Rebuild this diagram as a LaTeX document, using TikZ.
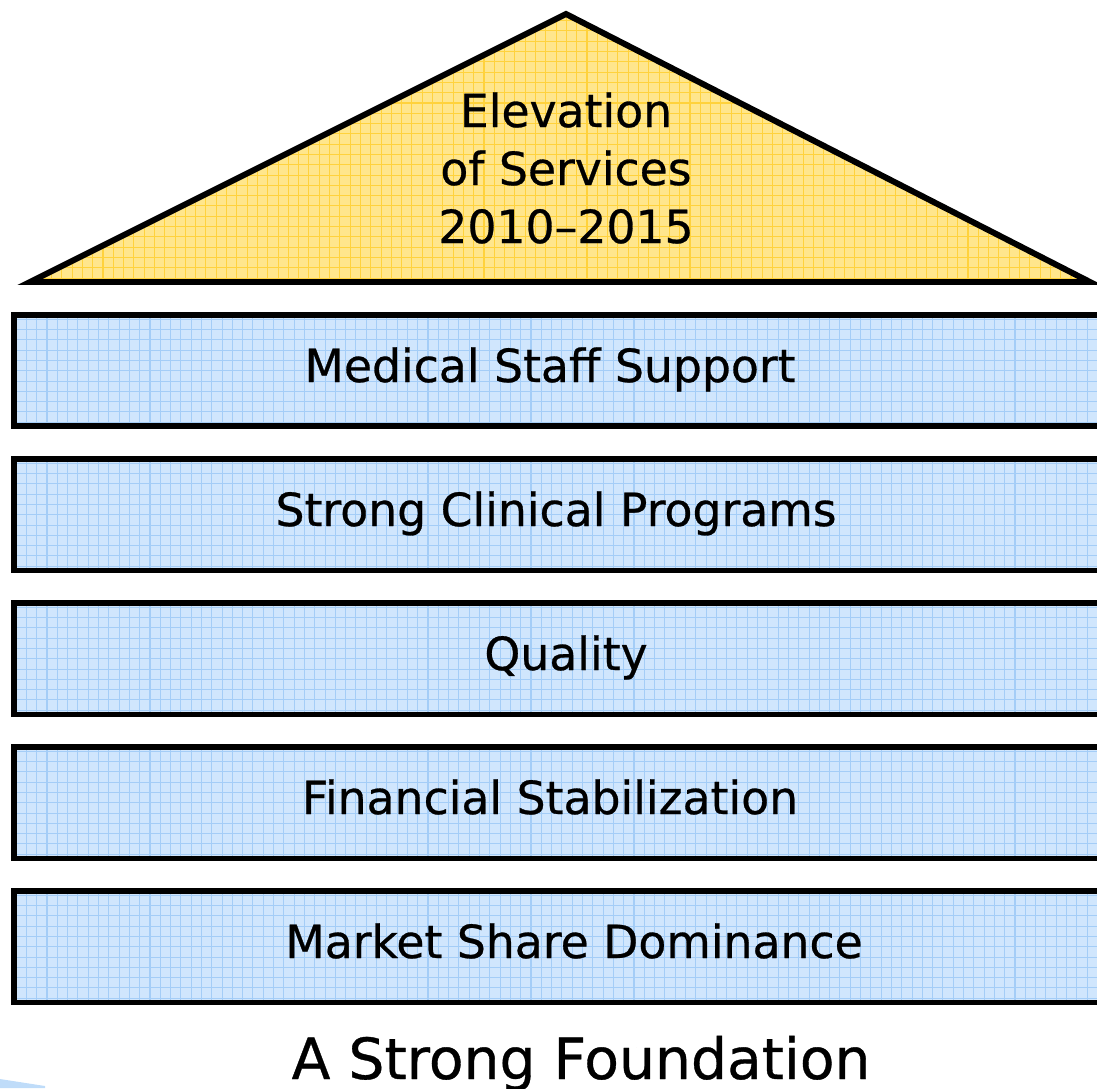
\documentclass[tikz,border=0pt]{standalone}
\usepackage{fontspec}
\setmainfont{DejaVu Sans}[FakeBold=0.6]
\definecolor{roofyellow}{HTML}{FFE68C}
\definecolor{roofgrid}{HTML}{FFD23C}
\definecolor{layerblue}{HTML}{D0E6FD}
\definecolor{layergrid}{HTML}{A4CDF7}

\begin{document}
\begin{tikzpicture}[x = 0.02cm, y = -0.02cm,
    layer/.style = {draw, line width = 3.4pt, fill = layerblue, anchor = north west, inner sep = 0, outer sep = 0,
      minimum width = 21.92cm, minimum height = 2.23cm,
      path picture = {\draw [layergrid, line width = .6pt, step = 2.06mm] (path picture bounding box.south west) grid (path picture bounding box.north east);}},
    layertext/.style = {anchor = base, font = \fontsize{26pt}{31pt}\selectfont}]

    \useasboundingbox (0,0) rectangle (1097,1088);
    \clip (0,0) rectangle (1097,1088);

    \coordinate (roofleft) at (30,282);
    \coordinate (apex) at (566,14);
    \coordinate (roofright) at (1090,282);
    \fill [roofyellow] (roofleft) -- (apex) -- (roofright) -- cycle;
    \begin{scope}
      \clip (roofleft) -- (apex) -- (roofright) -- cycle;
      \draw [roofgrid, line width = .6pt, step = 2.06mm] (0,0) grid (1100,290);
    \end{scope}
    \draw [line width = 3.4pt] (roofleft) -- (apex) -- (roofright) -- cycle;
    \node [align = center, font = \fontsize{26pt}{33pt}\selectfont] (roof) at (566,168) {Elevation\\of Services\\2010--2015};

    \foreach \y/\name in {315/staffbox, 459/clinicalbox, 603/qualitybox, 747/financebox, 891/marketbox} {
      \node [layer] (\name) at (14,\y) {};
    }
    \node [layertext] (staff) at (550,382) {Medical Staff Support};
    \node [layertext] (clinical) at (556,526) {Strong Clinical Programs};
    \node [layertext] (quality) at (566,670) {Quality};
    \node [layertext] (finance) at (550,814) {Financial Stabilization};
    \node [layertext] (market) at (574,958) {Market Share Dominance};

    \node [anchor = base, font = \fontsize{32.3pt}{38pt}\selectfont] (foundation) at (581,1079) {A Strong Foundation};
    \fill [layergrid!70] (0,1079) -- (45,1086) -- (45,1088) -- (0,1088) -- cycle;
    \end{tikzpicture}
\end{document}
